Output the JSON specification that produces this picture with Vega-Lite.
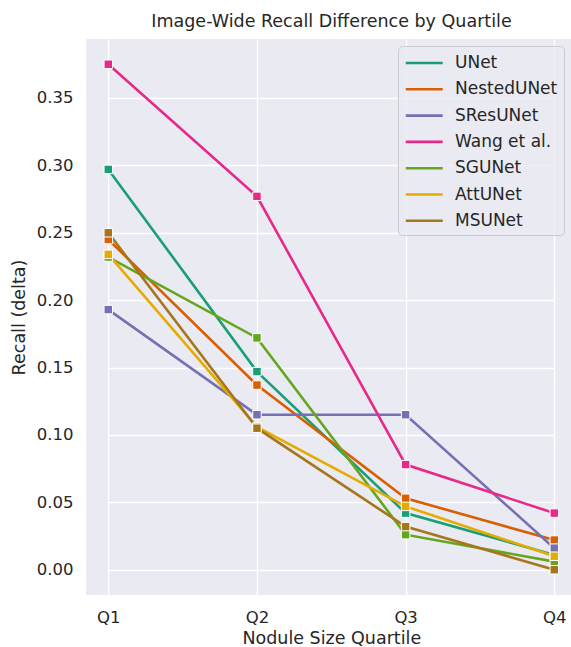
{
  "$schema": "https://vega.github.io/schema/vega-lite/v6.json",
  "autosize": "none",
  "width": 485,
  "height": 556,
  "padding": {"left": 86, "top": 39, "right": 0, "bottom": 52},
  "background": "white",
  "title": {
    "text": "Image-Wide Recall Difference by Quartile",
    "font": "DejaVu Sans",
    "fontSize": 17.5,
    "fontWeight": "normal",
    "color": "#262626",
    "anchor": "middle",
    "dx": 3,
    "offset": 9
  },
  "config": {
    "view": {"fill": "#EAEAF2", "stroke": null},
    "font": "DejaVu Sans",
    "axis": {
      "domain": false,
      "ticks": false,
      "grid": true,
      "gridColor": "white",
      "gridWidth": 1.3,
      "labelFont": "DejaVu Sans",
      "labelFontSize": 16.5,
      "labelColor": "#262626",
      "titleFont": "DejaVu Sans",
      "titleFontSize": 17.5,
      "titleFontWeight": "normal",
      "titleColor": "#262626"
    }
  },
  "data": {
    "values": [
      {"model": "UNet", "quartile": "Q1", "recall": 0.297},
      {"model": "UNet", "quartile": "Q2", "recall": 0.147},
      {"model": "UNet", "quartile": "Q3", "recall": 0.042},
      {"model": "UNet", "quartile": "Q4", "recall": 0.011},
      {"model": "NestedUNet", "quartile": "Q1", "recall": 0.245},
      {"model": "NestedUNet", "quartile": "Q2", "recall": 0.137},
      {"model": "NestedUNet", "quartile": "Q3", "recall": 0.053},
      {"model": "NestedUNet", "quartile": "Q4", "recall": 0.022},
      {"model": "SResUNet", "quartile": "Q1", "recall": 0.193},
      {"model": "SResUNet", "quartile": "Q2", "recall": 0.115},
      {"model": "SResUNet", "quartile": "Q3", "recall": 0.115},
      {"model": "SResUNet", "quartile": "Q4", "recall": 0.016},
      {"model": "Wang et al.", "quartile": "Q1", "recall": 0.375},
      {"model": "Wang et al.", "quartile": "Q2", "recall": 0.277},
      {"model": "Wang et al.", "quartile": "Q3", "recall": 0.078},
      {"model": "Wang et al.", "quartile": "Q4", "recall": 0.042},
      {"model": "SGUNet", "quartile": "Q1", "recall": 0.232},
      {"model": "SGUNet", "quartile": "Q2", "recall": 0.172},
      {"model": "SGUNet", "quartile": "Q3", "recall": 0.026},
      {"model": "SGUNet", "quartile": "Q4", "recall": 0.006},
      {"model": "AttUNet", "quartile": "Q1", "recall": 0.234},
      {"model": "AttUNet", "quartile": "Q2", "recall": 0.106},
      {"model": "AttUNet", "quartile": "Q3", "recall": 0.047},
      {"model": "AttUNet", "quartile": "Q4", "recall": 0.010},
      {"model": "MSUNet", "quartile": "Q1", "recall": 0.250},
      {"model": "MSUNet", "quartile": "Q2", "recall": 0.105},
      {"model": "MSUNet", "quartile": "Q3", "recall": 0.032},
      {"model": "MSUNet", "quartile": "Q4", "recall": 0.000}
    ]
  },
  "encoding": {
    "x": {
      "field": "quartile",
      "type": "ordinal",
      "scale": {"type": "point", "range": [22.3, 468.3], "padding": 0},
      "axis": {"title": "Nodule Size Quartile", "labelAngle": 0, "labelPadding": 14, "titlePadding": 4}
    },
    "y": {
      "field": "recall",
      "type": "quantitative",
      "scale": {"domain": [-0.01875, 0.39375], "nice": false, "zero": false},
      "axis": {
        "title": "Recall (delta)",
        "values": [0, 0.05, 0.1, 0.15, 0.2, 0.25, 0.3, 0.35],
        "format": ".2f",
        "labelPadding": 13,
        "titlePadding": 8
      }
    },
    "color": {
      "field": "model",
      "type": "nominal",
      "scale": {
        "domain": ["UNet", "NestedUNet", "SResUNet", "Wang et al.", "SGUNet", "AttUNet", "MSUNet"],
        "range": ["#1b9e77", "#d95f02", "#7570b3", "#e7298a", "#66a61e", "#e6ab02", "#a6761d"]
      },
      "legend": {
        "title": null,
        "orient": "none",
        "legendX": 312,
        "legendY": 7,
        "symbolType": "M-1,0H3",
        "symbolSize": 342,
        "symbolStrokeWidth": 2.6,
        "labelFont": "DejaVu Sans",
        "labelFontSize": 17,
        "labelColor": "#262626",
        "labelOffset": 29,
        "rowPadding": 7.3,
        "padding": 6,
        "fillColor": "rgba(234,234,242,0.8)",
        "strokeColor": "#cccccc",
        "cornerRadius": 4
      }
    }
  },
  "layer": [
    {"mark": {"type": "line", "strokeWidth": 2.6}},
    {"mark": {"type": "point", "shape": "square", "filled": true, "size": 72, "stroke": "white", "strokeWidth": 1, "opacity": 1}}
  ]
}
